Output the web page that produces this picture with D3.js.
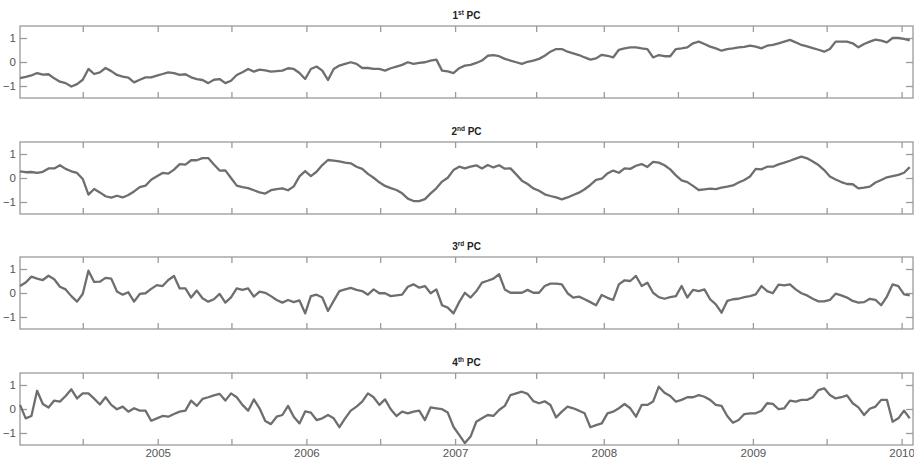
<!DOCTYPE html>
<html>
<head>
<meta charset="utf-8">
<script src="https://cdn.jsdelivr.net/npm/d3@7"></script>
<style>
  body { margin: 0; background: #fff; }
  svg text { font-family: "Liberation Sans", Arial, sans-serif; }
</style>
</head>
<body>
<div id="chart"></div>
<script>
// Samples every 14 days starting 29 Jan 2004
const startDate = new Date(2004, 0, 29);
const endDate = new Date(2010, 0, 29);
const stepDays = 14;

const pc1 = [
  -0.67,-0.62,-0.56,-0.46,-0.53,-0.51,-0.68,-0.82,-0.88,-1.02,
  -0.92,-0.74,-0.29,-0.5,-0.43,-0.25,-0.38,-0.54,-0.61,-0.65,
  -0.85,-0.74,-0.64,-0.64,-0.57,-0.5,-0.43,-0.46,-0.54,-0.51,
  -0.64,-0.71,-0.75,-0.88,-0.74,-0.71,-0.88,-0.78,-0.54,-0.43,
  -0.29,-0.4,-0.32,-0.35,-0.4,-0.38,-0.36,-0.26,-0.29,-0.46,
  -0.71,-0.29,-0.19,-0.36,-0.75,-0.29,-0.15,-0.08,-0.01,-0.08,
  -0.25,-0.25,-0.29,-0.29,-0.36,-0.26,-0.19,-0.12,-0.01,-0.08,
  -0.04,-0.01,0.06,0.1,-0.36,-0.39,-0.46,-0.26,-0.15,-0.12,
  -0.04,0.06,0.26,0.29,0.24,0.13,0.06,-0.01,-0.08,0.01,
  0.06,0.13,0.26,0.43,0.54,0.54,0.43,0.36,0.29,0.19,
  0.1,0.15,0.3,0.26,0.19,0.51,0.57,0.61,0.61,0.57,
  0.54,0.19,0.29,0.24,0.24,0.54,0.57,0.61,0.78,0.85,
  0.75,0.64,0.57,0.47,0.54,0.57,0.61,0.63,0.68,0.64,
  0.57,0.68,0.71,0.78,0.85,0.92,0.82,0.71,0.65,0.58,
  0.51,0.43,0.54,0.85,0.85,0.85,0.78,0.61,0.75,0.85,
  0.93,0.89,0.82,1.0,1.0,0.96,0.9
];

const pc2 = [
  0.28,0.24,0.25,0.21,0.26,0.4,0.4,0.53,0.38,0.28,
  0.21,-0.04,-0.69,-0.46,-0.6,-0.76,-0.82,-0.74,-0.81,-0.71,
  -0.56,-0.38,-0.32,-0.07,0.07,0.21,0.18,0.35,0.58,0.56,
  0.74,0.74,0.83,0.83,0.56,0.31,0.32,0,-0.32,-0.38,
  -0.42,-0.51,-0.6,-0.65,-0.51,-0.46,-0.43,-0.51,-0.35,0.07,
  0.29,0.08,0.26,0.54,0.75,0.72,0.69,0.64,0.61,0.47,
  0.38,0.17,0.01,-0.18,-0.33,-0.42,-0.5,-0.64,-0.86,-0.96,
  -0.96,-0.88,-0.64,-0.43,-0.15,0.01,0.33,0.47,0.4,0.47,
  0.53,0.4,0.54,0.44,0.53,0.39,0.4,0.15,-0.11,-0.25,
  -0.43,-0.53,-0.68,-0.75,-0.81,-0.89,-0.81,-0.71,-0.61,-0.47,
  -0.29,-0.08,-0.03,0.19,0.31,0.22,0.4,0.38,0.51,0.58,
  0.46,0.67,0.64,0.53,0.36,0.11,-0.1,-0.17,-0.33,-0.5,
  -0.47,-0.44,-0.46,-0.4,-0.36,-0.31,-0.19,-0.08,0.06,0.38,
  0.36,0.47,0.47,0.57,0.64,0.72,0.81,0.89,0.82,0.69,
  0.54,0.33,0.06,-0.06,-0.17,-0.25,-0.26,-0.43,-0.4,-0.36,
  -0.19,-0.08,0.03,0.08,0.13,0.22,0.45
];

const pc3 = [
  0.29,0.44,0.68,0.6,0.54,0.72,0.57,0.26,0.15,-0.13,
  -0.36,-0.04,0.93,0.46,0.47,0.63,0.6,0.06,-0.07,0.03,
  -0.36,-0.04,-0.01,0.17,0.33,0.29,0.54,0.71,0.19,0.19,
  -0.19,0.1,-0.22,-0.36,-0.26,-0.04,-0.4,-0.18,0.19,0.13,
  0.19,-0.15,0.06,0.01,-0.13,-0.29,-0.4,-0.29,-0.38,-0.31,
  -0.85,-0.13,-0.07,-0.19,-0.75,-0.33,0.08,0.15,0.21,0.13,
  0.08,-0.07,0.15,-0.01,-0.01,-0.13,-0.1,-0.07,0.26,0.36,
  0.22,0.29,-0.01,0.15,-0.51,-0.61,-0.85,-0.38,0.01,-0.19,
  0.07,0.43,0.51,0.6,0.78,0.15,0.01,0.01,0.01,0.13,
  0.01,0.01,0.29,0.39,0.39,0.36,-0.01,-0.19,-0.15,-0.26,
  -0.38,-0.51,-0.08,-0.2,-0.29,0.36,0.53,0.5,0.71,0.29,
  0.43,0.01,-0.17,-0.24,-0.17,-0.13,0.29,-0.19,0.13,0.08,
  0.15,-0.26,-0.47,-0.82,-0.33,-0.26,-0.24,-0.17,-0.13,-0.06,
  0.29,0.08,-0.01,0.35,0.32,0.36,0.15,-0.01,-0.1,-0.24,
  -0.35,-0.35,-0.29,-0.03,-0.1,-0.19,-0.33,-0.4,-0.38,-0.24,
  -0.29,-0.51,-0.15,0.36,0.29,-0.06,-0.1
];

const pc4 = [
  0.17,-0.39,-0.29,0.76,0.21,0.06,0.35,0.31,0.54,0.82,
  0.44,0.65,0.65,0.43,0.19,0.49,0.17,-0.01,0.1,-0.11,
  0.03,-0.07,-0.07,-0.49,-0.39,-0.29,-0.32,-0.21,-0.11,-0.07,
  0.35,0.13,0.42,0.49,0.57,0.63,0.35,0.65,0.49,0.17,
  -0.07,0.4,0.03,-0.5,-0.63,-0.32,-0.25,0.13,-0.32,-0.6,
  -0.1,-0.15,-0.46,-0.39,-0.25,-0.39,-0.76,-0.39,-0.07,0.1,
  0.31,0.65,0.49,0.17,0.4,-0.01,-0.29,-0.11,-0.18,-0.11,
  -0.07,-0.46,0.07,0.03,-0.01,-0.15,-0.74,-1.08,-1.42,-1.15,
  -0.53,-0.39,-0.25,-0.29,-0.04,0.13,0.58,0.65,0.72,0.63,
  0.33,0.24,0.32,0.17,-0.35,-0.11,0.1,0.03,-0.07,-0.18,
  -0.76,-0.67,-0.6,-0.18,-0.11,0.03,0.21,0.03,-0.32,0.17,
  0.17,0.31,0.93,0.68,0.54,0.31,0.38,0.49,0.49,0.58,
  0.51,0.38,0.17,0.13,-0.29,-0.57,-0.46,-0.21,-0.18,-0.18,
  -0.07,0.24,0.21,-0.01,0.03,0.35,0.31,0.38,0.38,0.49,
  0.79,0.86,0.58,0.44,0.49,0.57,0.24,0.07,-0.25,0.01,
  0.1,0.38,0.38,-0.53,-0.39,-0.07,-0.39
];

const series = [pc1, pc2, pc3, pc4];
const titleNums = ['1', '2', '3', '4'];
const titleSups = ['st', 'nd', 'rd', 'th'];
const yTicks = [-1, 0, 1];
const xTickDates = ['2004-07-01', '2005-01-01', '2005-07-01', '2006-01-01', '2006-07-01',
  '2007-01-01', '2007-07-19', '2008-01-01', '2008-07-01', '2009-01-01', '2009-07-01', '2010-01-01'];

const W = 914, H = 460;
const left = 20, right = 913;
const panelTop = 26, panelGap = 115.7, panelH = 72;
const lineColor = '#6e6e6e', frameColor = '#9a9a9a', textColor = '#555';

const svg = d3.select('#chart').append('svg')
  .attr('width', W).attr('height', H);

const x = d3.scaleTime()
  .domain([startDate, endDate])
  .range([left, right]);

const tickDates = xTickDates.map(s => d3.timeParse('%Y-%m-%d')(s));
const dates = series[0].map((_, i) => d3.timeDay.offset(startDate, i * stepDays));

series.forEach((vals, p) => {
  const top = Math.round(panelTop + p * panelGap);
  const y = d3.scaleLinear().domain([-1.5, 1.5]).range([top + panelH, top]);
  const g = svg.append('g');

  // frame
  g.append('rect')
    .attr('x', left).attr('y', top)
    .attr('width', right - left).attr('height', panelH)
    .attr('fill', 'none').attr('stroke', frameColor).attr('stroke-width', 1.3);

  const styleAxis = sel => {
    sel.select('.domain').remove();
    sel.selectAll('line').attr('stroke', frameColor).attr('stroke-width', 1.3);
    sel.selectAll('text').attr('fill', textColor).style('font-size', '11.5px');
  };

  g.append('g').attr('transform', `translate(${left},0)`)
    .call(d3.axisLeft(y).tickValues(yTicks).tickSize(-7).tickPadding(4).tickFormat(d3.format('d')))
    .call(styleAxis);
  g.append('g').attr('transform', `translate(${right},0)`)
    .call(d3.axisRight(y).tickValues(yTicks).tickSize(-7).tickFormat(''))
    .call(styleAxis);
  g.append('g').attr('transform', `translate(0,${top})`)
    .call(d3.axisTop(x).tickValues(tickDates).tickSize(-6).tickFormat(''))
    .call(styleAxis);
  g.append('g').attr('transform', `translate(0,${top + panelH})`)
    .call(d3.axisBottom(x).tickValues(tickDates).tickSize(-6).tickPadding(4)
      .tickFormat(d => (p === 3 && d.getMonth() === 0) ? d3.timeFormat('%Y')(d) : ''))
    .call(styleAxis);

  // line
  const line = d3.line()
    .x((d, i) => x(dates[i]))
    .y(d => y(d));
  g.append('path')
    .datum(vals)
    .attr('fill', 'none')
    .attr('stroke', lineColor)
    .attr('stroke-width', 2.3)
    .attr('stroke-linejoin', 'round')
    .attr('d', line);

  // title
  const t = g.append('text')
    .attr('x', (left + right) / 2)
    .attr('y', top - 7)
    .attr('text-anchor', 'middle')
    .attr('fill', '#222')
    .style('font-size', '10px')
    .style('font-weight', 'bold');
  t.append('tspan').text(titleNums[p]);
  t.append('tspan').attr('dy', -4).style('font-size', '6.5px').text(titleSups[p]);
  t.append('tspan').attr('dy', 4).text(' PC');
});
</script>
</body>
</html>
